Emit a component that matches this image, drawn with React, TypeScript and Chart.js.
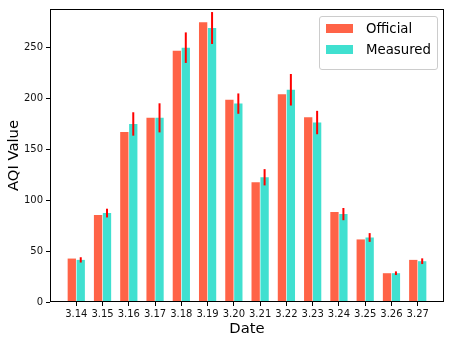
import React, { useEffect, useRef } from "react";
import { Chart, registerables } from "chart.js";

Chart.register(...registerables);

const categories = ["3.14", "3.15", "3.16", "3.17", "3.18", "3.19", "3.20", "3.21", "3.22", "3.23", "3.24", "3.25", "3.26", "3.27"];
const officialValues = [42.7, 85.4, 167, 181, 247, 275, 198.7, 117.6, 204.3, 181.7, 88.4, 61.5, 28.3, 41.4];
const measuredValues = [41.4, 87.4, 175, 181, 250, 269.3, 195, 122.6, 208.6, 176.4, 86.4, 63.4, 28.3, 40.1];
const measuredErrors = [2.6, 4.3, 11.5, 14.3, 15, 15.7, 10, 8, 15.5, 11.5, 6, 4.3, 1.8, 2.8];
const yTicks = [0, 50, 100, 150, 200, 250];

const OFFICIAL_COLOR = "#FF6347";
const MEASURED_COLOR = "#40E0D0";
const FONT = "'DejaVu Sans', sans-serif";

export default function App() {
  const canvasRef = useRef<HTMLCanvasElement | null>(null);

  useEffect(() => {
    if (!canvasRef.current) return;
    const labels = ["", ...categories, ""];
    const pad = (arr: number[]) => [null, ...arr, null];
    const lastIdx = labels.length - 1;

    const errorBarPlugin = {
      id: "errorBars",
      afterDatasetsDraw(chart: any) {
        const ctx = chart.ctx;
        const meta = chart.getDatasetMeta(1);
        const y = chart.scales.y;
        ctx.save();
        ctx.strokeStyle = "#FF0000";
        ctx.lineWidth = 2;
        measuredValues.forEach((v, i) => {
          const el = meta.data[i + 1];
          if (!el) return;
          const y1 = y.getPixelForValue(v - measuredErrors[i]);
          const y2 = y.getPixelForValue(v + measuredErrors[i]);
          ctx.beginPath();
          ctx.moveTo(el.x, y1);
          ctx.lineTo(el.x, y2);
          ctx.stroke();
        });
        const a = chart.chartArea;
        ctx.strokeStyle = "#000";
        ctx.lineWidth = 1;
        ctx.strokeRect(Math.round(a.left) + 0.5, Math.round(a.top) + 0.5, Math.round(a.right - a.left) - 1, Math.round(a.bottom - a.top) - 1);
        ctx.restore();
      },
    };

    const chart = new Chart(canvasRef.current, {
      type: "bar",
      data: {
        labels,
        datasets: [
          {
            label: "Official",
            data: pad(officialValues) as any,
            backgroundColor: OFFICIAL_COLOR,
            categoryPercentage: 0.68,
            barPercentage: 0.93,
          },
          {
            label: "Measured",
            data: pad(measuredValues) as any,
            backgroundColor: MEASURED_COLOR,
            categoryPercentage: 0.68,
            barPercentage: 0.93,
          },
        ],
      },
      options: {
        animation: false,
        responsive: true,
        maintainAspectRatio: false,
        layout: { padding: { left: 0, top: 9, right: 13, bottom: 0 } },
        plugins: {
          legend: { display: false },
          tooltip: { enabled: false },
        },
        scales: {
          x: {
            offset: false,
            grid: {
              offset: false,
              drawOnChartArea: false,
              drawTicks: true,
              tickLength: 4,
              tickColor: (c: any) => (c.index === 0 || c.index === lastIdx ? "rgba(0,0,0,0)" : "#000"),
            },
            border: { display: false },
            ticks: {
              autoSkip: false,
              maxRotation: 0,
              padding: 2,
              color: "#111",
              font: { family: FONT, size: 10 },
            },
            title: {
              display: true,
              text: "Date",
              color: "#000",
              font: { family: FONT, size: 14.8 },
              padding: { top: 0, bottom: 4 },
            },
            afterFit: (s: any) => {
              s.height = 40;
            },
          },
          y: {
            min: 0,
            max: 288,
            grid: {
              drawOnChartArea: false,
              drawTicks: true,
              tickLength: 4,
              tickColor: "#000",
            },
            border: { display: false },
            afterBuildTicks: (s: any) => {
              s.ticks = yTicks.map((v) => ({ value: v }));
            },
            ticks: {
              padding: 3,
              color: "#111",
              font: { family: FONT, size: 10 },
            },
            title: {
              display: true,
              text: "AQI Value",
              color: "#000",
              font: { family: FONT, size: 14.8 },
              padding: { top: 5, bottom: 0 },
            },
            afterFit: (s: any) => {
              s.width = 50;
            },
          },
        },
      },
      plugins: [errorBarPlugin],
    });
    return () => chart.destroy();
  }, []);

  const swatch = (color: string) => (
    <span style={{ display: "inline-block", width: 27, height: 9, background: color, marginRight: 13 }} />
  );

  return (
    <div style={{ position: "fixed", left: 0, top: 0, width: 457, height: 342, background: "#fff" }}>
      <canvas ref={canvasRef} />
      <div
        style={{
          position: "absolute",
          left: 319,
          top: 16,
          width: 117,
          height: 52,
          border: "1px solid #cccccc",
          borderRadius: 3,
          background: "rgba(255,255,255,0.8)",
          fontFamily: FONT,
          fontSize: 13.3,
          color: "#000",
          boxSizing: "content-box",
        }}
      >
        <div style={{ position: "absolute", left: 6, top: 2, display: "flex", alignItems: "center", height: 18, whiteSpace: "nowrap" }}>
          {swatch(OFFICIAL_COLOR)}Official
        </div>
        <div style={{ position: "absolute", left: 6, top: 23, display: "flex", alignItems: "center", height: 18, whiteSpace: "nowrap" }}>
          {swatch(MEASURED_COLOR)}Measured
        </div>
      </div>
    </div>
  );
}
